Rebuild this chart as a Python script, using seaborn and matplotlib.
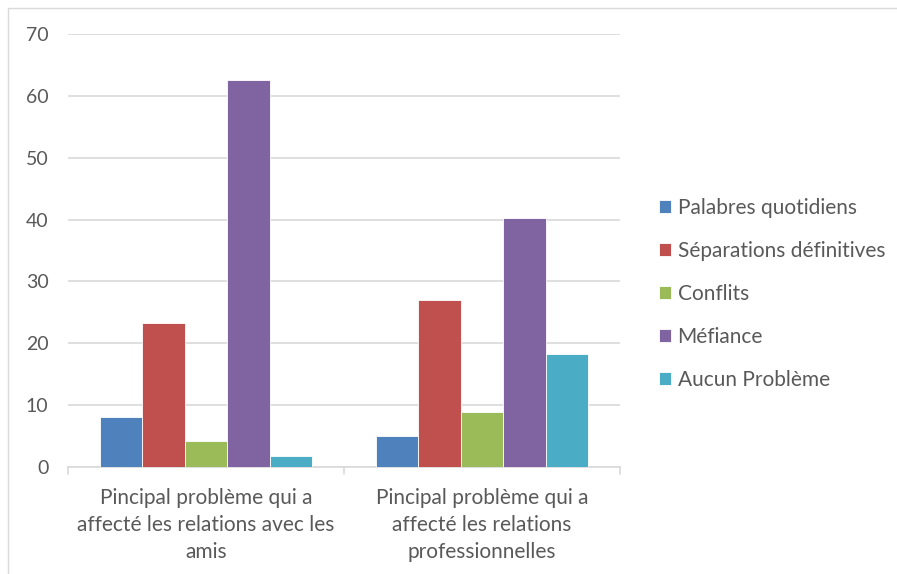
import pandas as pd
import numpy as np
import matplotlib.pyplot as plt
import seaborn as sns
from matplotlib.patches import Rectangle

categories = ["Pincipal problème qui a\naffecté les relations avec les\namis",
              "Pincipal problème qui a\naffecté les relations\nprofessionnelles"]
series = ["Palabres quotidiens", "Séparations définitives", "Conflits",
          "Méfiance", "Aucun Problème"]
amis = [8.1, 23.3, 4.2, 62.6, 1.7]
pros = [5.0, 27.0, 8.9, 40.3, 18.3]
colors = ["#4f81bd", "#c0504d", "#9bbb59", "#8064a2", "#4bacc6"]

# long format for seaborn
df = pd.DataFrame({
    "categorie": [categories[0]] * len(series) + [categories[1]] * len(series),
    "serie": series * 2,
    "valeur": amis + pros,
})

sns.set_style("white")
plt.rcParams['font.family'] = ['Lato', 'DejaVu Sans']

fig = plt.figure(figsize=(8.97, 5.74), dpi=100)
ax = fig.add_axes([68 / 897, 1 - 467 / 574, 552 / 897, 433 / 574])

sns.barplot(data=df, x="categorie", y="valeur", hue="serie", hue_order=series,
            palette=colors, saturation=1, width=0.77, gap=0,
            edgecolor="white", linewidth=0.6, ax=ax, zorder=3)

ax.set_ylim(0, 70)
ax.set_xlim(-0.5, 1.5)
ax.set_yticks(range(0, 71, 10))
ax.yaxis.grid(True, color="#d9d9d9", linewidth=1.2, zorder=0)
ax.set_axisbelow(True)
ax.set_xlabel("")
ax.set_ylabel("")
for s in ["top", "right", "left"]:
    ax.spines[s].set_visible(False)
ax.spines["bottom"].set_color("#d9d9d9")
ax.spines["bottom"].set_linewidth(1.2)

ax.tick_params(axis="y", length=0, labelsize=14, labelcolor="#595959", pad=14)
ax.set_xticks([0, 1])
ax.set_xticklabels(categories, fontsize=15, color="#595959", linespacing=1.43)
ax.tick_params(axis="x", length=0, pad=15)
for xb in [-0.5, 0.5, 1.5]:
    ax.plot([xb, xb], [0, -1.2], color="#d9d9d9", lw=1.2, clip_on=False)

leg = ax.legend(loc="center left", bbox_to_anchor=((640 - 68) / 552, 0.40),
                frameon=False, fontsize=15, labelcolor="#595959",
                handlelength=0.6, handleheight=0.6, handletextpad=0.3,
                labelspacing=1.1, bbox_transform=ax.transAxes)

# chart frame
fig.patches.append(Rectangle((8 / 897, -0.01), 1.0, 1 - 8 / 574 + 0.01,
                             transform=fig.transFigure, fill=False,
                             edgecolor="#d9d9d9", linewidth=1))

fig.savefig("out.png", dpi=100)
